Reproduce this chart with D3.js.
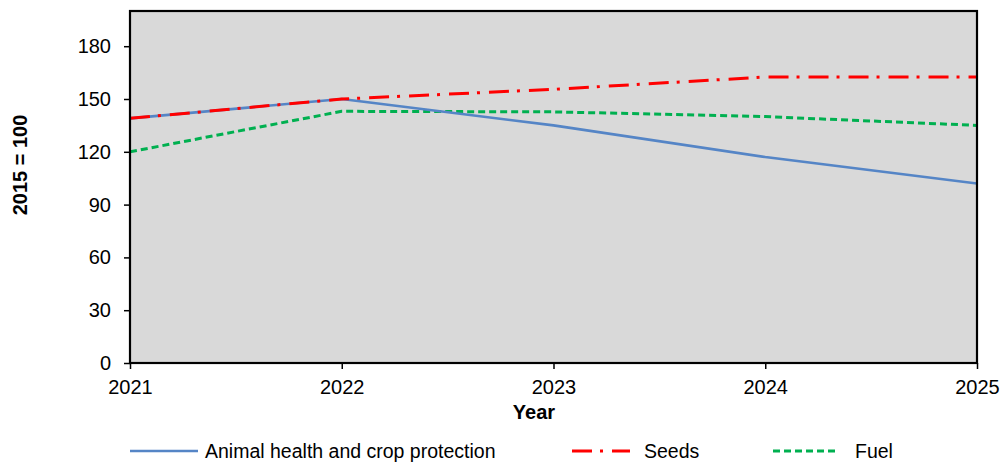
<!DOCTYPE html>
<html><head><meta charset="utf-8">
<script src="https://cdn.jsdelivr.net/npm/d3@7"></script>
<style>body{margin:0;background:#fff;} text{font-family:"Liberation Sans",Arial,sans-serif;}</style>
</head><body><svg id="c" width="1003" height="464"></svg>
<script>
const years = [2021, 2022, 2023, 2024, 2025];
const animalHealth = [139, 150, 135, 117, 102];
const seeds = [139, 150, 155.5, 162.5, 162.5];
const fuel = [120, 143, 142.7, 140, 135];
const yTicks = [0, 30, 60, 90, 120, 150, 180];
const seriesNames = ["Animal health and crop protection", "Seeds", "Fuel"];

const svg = d3.select("#c");
const m = {l:130, t:11, r:977, b:363};
const x = d3.scaleLinear().domain([2021, 2025]).range([m.l, m.r]);
const y = d3.scaleLinear().domain([0, 200]).range([m.b, m.t]);

svg.append("rect").attr("x", m.l).attr("y", m.t).attr("width", m.r-m.l).attr("height", m.b-m.t)
  .attr("fill", "#d9d9d9");

const yAxis = svg.append("g").attr("transform", `translate(${m.l},0)`)
  .call(d3.axisLeft(y).tickValues(yTicks).tickSize(6).tickSizeOuter(0).tickPadding(13));
const xAxis = svg.append("g").attr("transform", `translate(0,${m.b})`)
  .call(d3.axisBottom(x).tickValues(years).tickFormat(d3.format("d")).tickSize(6).tickSizeOuter(0).tickPadding(11));
[yAxis, xAxis].forEach(a => {
  a.selectAll("text").attr("font-size", 20).attr("fill", "#000").attr("font-family", "Liberation Sans, Arial, sans-serif");
  a.selectAll("line").attr("stroke", "#000").attr("stroke-width", 1.5);
  a.select(".domain").remove();
});

const series = [
  {name: seriesNames[0], vals: animalHealth, color: "#5585c6", dash: null, w: 2.6},
  {name: seriesNames[1], vals: seeds, color: "#ff0000", dash: "20,8,3,9", w: 3},
  {name: seriesNames[2], vals: fuel, color: "#00b050", dash: "7,4", w: 3}
];
const line = d3.line().x((d,i) => x(years[i])).y(d => y(d));
svg.append("clipPath").attr("id", "pc").append("rect")
  .attr("x", m.l).attr("y", m.t).attr("width", m.r-m.l).attr("height", m.b-m.t);
const g = svg.append("g").attr("clip-path", "url(#pc)");
[series[2], series[0], series[1]].forEach(s => {
  g.append("path").datum(s.vals).attr("d", line).attr("fill", "none")
    .attr("stroke", s.color).attr("stroke-width", s.w).attr("stroke-linejoin", "round")
    .attr("stroke-dasharray", s.dash);
});

svg.append("rect").attr("x", m.l).attr("y", m.t).attr("width", m.r-m.l).attr("height", m.b-m.t)
  .attr("fill", "none").attr("stroke", "#000").attr("stroke-width", 2.2);

svg.append("text").attr("x", 534).attr("y", 419).attr("text-anchor", "middle")
  .attr("font-size", 20).attr("font-weight", "bold").text("Year");
svg.append("text").attr("transform", "translate(27,165) rotate(-90)").attr("text-anchor", "middle")
  .attr("font-size", 20).attr("font-weight", "bold").text("2015 = 100");

const legend = [
  {s: series[0], x1: 130, x2: 198, tx: 205},
  {s: series[1], x1: 572, x2: 630, tx: 644},
  {s: series[2], x1: 773, x2: 838, tx: 855}
];
legend.forEach(l => {
  svg.append("line").attr("x1", l.x1).attr("x2", l.x2).attr("y1", 451).attr("y2", 451)
    .attr("stroke", l.s.color).attr("stroke-width", l.s.w).attr("stroke-dasharray", l.s.dash);
  svg.append("text").attr("x", l.tx).attr("y", 458).attr("font-size", 19.5).text(l.s.name);
});
</script></body></html>
